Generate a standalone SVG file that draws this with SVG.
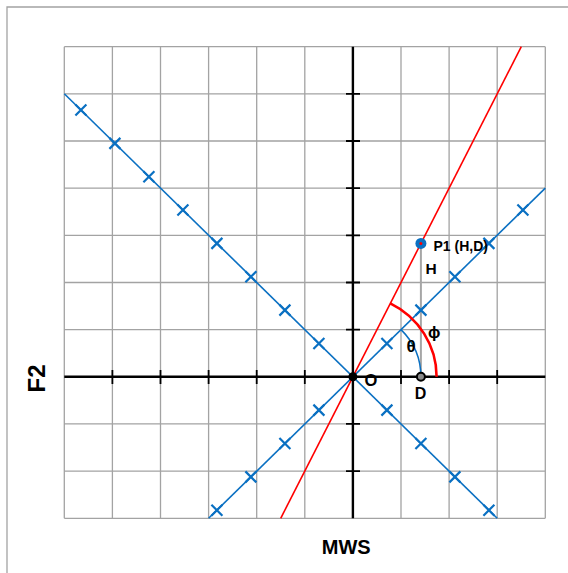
<svg xmlns="http://www.w3.org/2000/svg" xmlns:xlink="http://www.w3.org/1999/xlink" width="568" height="573" viewBox="0 0 568 573">
<defs>
<style>
.grid{fill:none;stroke:#a3a3a3;stroke-width:1.3}
.axis{fill:none;stroke:#000;stroke-width:2.4}
.tick{fill:none;stroke:#000;stroke-width:1.8}
.blue{fill:none;stroke:#0a70c2;stroke-width:1.6}
.mk{fill:none;stroke:#0a70c2;stroke-width:2.2}
.red{fill:none;stroke:#ff0000;stroke-width:1.6}
.lbl{font-family:"Liberation Sans",Arial,sans-serif;font-weight:bold;fill:#000}
</style>
<path id="x" d="M-5.5,-5.5L5.5,5.5M-5.5,5.5L5.5,-5.5"/>
</defs>
<rect x="0" y="0" width="568" height="573" fill="#fff"/>
<path class="grid" d="M7,573V7H568"/>
<g id="grid">
<path class="grid" d="M64.3,46.7H545.3M64.3,93.9H545.3M64.3,141H545.3M64.3,188.2H545.3M64.3,235.3H545.3M64.3,282.5H545.3M64.3,329.7H545.3M64.3,423.9H545.3M64.3,471.1H545.3M64.3,518.3H545.3M64.3,46.7V518.3M112.4,46.7V518.3M160.5,46.7V518.3M208.6,46.7V518.3M256.7,46.7V518.3M304.8,46.7V518.3M401,46.7V518.3M449.1,46.7V518.3M497.2,46.7V518.3M545.3,46.7V518.3"/>
</g>
<g id="axes">
<path class="axis" d="M64.3,376.8H545.3M352.9,46.7V518.3"/>
<path class="tick" d="M112.4,370V384M160.5,370V384M208.6,370V384M256.7,370V384M304.8,370V384M401,370V384M449.1,370V384M497.2,370V384M346,93.9H360M346,141H360M346,188.2H360M346,235.3H360M346,282.5H360M346,329.7H360M346,423.9H360M346,471.1H360"/>
</g>
<g id="connectors">
<path class="blue" d="M64.3,93.7L497.2,518.3"/>
<path class="blue" d="M208.6,518.3L545.3,188.1"/>
<path class="red" d="M280.7,518.3L521.3,46.7"/>
<path d="M420.9,243.4V376.8" fill="none" stroke="#a6a6a6" stroke-width="2"/>
<path id="arc-phi" class="red" style="stroke-width:2.6" d="M390.3,303.4A83.7,82 0 0 1 436.6,376.8"/>
<path id="arc-theta" class="blue" style="stroke-width:1.5" d="M401,329.6A68,66.7 0 0 1 420.9,376.8"/>
</g>
<g id="markers-line1" class="mk">
<use xlink:href="#x" x="80.9" y="110"/>
<use xlink:href="#x" x="114.9" y="143.35"/>
<use xlink:href="#x" x="148.9" y="176.7"/>
<use xlink:href="#x" x="182.9" y="210.05"/>
<use xlink:href="#x" x="216.9" y="243.4"/>
<use xlink:href="#x" x="250.9" y="276.75"/>
<use xlink:href="#x" x="284.9" y="310.1"/>
<use xlink:href="#x" x="318.9" y="343.45"/>
<use xlink:href="#x" x="386.9" y="410.15"/>
<use xlink:href="#x" x="420.9" y="443.5"/>
<use xlink:href="#x" x="454.9" y="476.85"/>
<use xlink:href="#x" x="488.9" y="510.2"/>
</g>
<g id="markers-line2" class="mk">
<use xlink:href="#x" x="216.9" y="510.2"/>
<use xlink:href="#x" x="250.9" y="476.85"/>
<use xlink:href="#x" x="284.9" y="443.5"/>
<use xlink:href="#x" x="318.9" y="410.15"/>
<use xlink:href="#x" x="386.9" y="343.45"/>
<use xlink:href="#x" x="420.9" y="310.1"/>
<use xlink:href="#x" x="454.9" y="276.75"/>
<use xlink:href="#x" x="488.9" y="243.4"/>
<use xlink:href="#x" x="522.9" y="210.05"/>
</g>
<g id="node-O">
<circle cx="352.9" cy="376.8" r="4.5" fill="#000"/>
<text class="lbl" x="364.5" y="385.5" font-size="16.5">O</text>
</g>
<g id="node-D">
<circle cx="420.9" cy="376.8" r="4" fill="#8a8a8a" stroke="#000" stroke-width="2"/>
<text class="lbl" x="420.5" y="399.4" font-size="16" text-anchor="middle">D</text>
</g>
<g id="node-P1">
<circle cx="420.9" cy="243.4" r="5.5" fill="#0a70c2"/>
<circle cx="420.9" cy="243.4" r="1.5" fill="#ff0000"/>
<text class="lbl" x="433.5" y="250.6" font-size="14">P1 (H,D)</text>
</g>
<g id="label-H"><text class="lbl" x="425.5" y="274.2" font-size="15.5">H</text></g>
<g id="label-phi"><text class="lbl" x="428" y="338" font-size="16.5">ϕ</text></g>
<g id="label-theta"><text class="lbl" x="406.5" y="351.6" font-size="17">θ</text></g>
<g id="label-MWS"><text class="lbl" x="346.2" y="554.2" font-size="20" text-anchor="middle">MWS</text></g>
<g id="label-F2"><text class="lbl" transform="translate(44.5,378.5) rotate(-90)" font-size="24" text-anchor="middle">F2</text></g>
</svg>
